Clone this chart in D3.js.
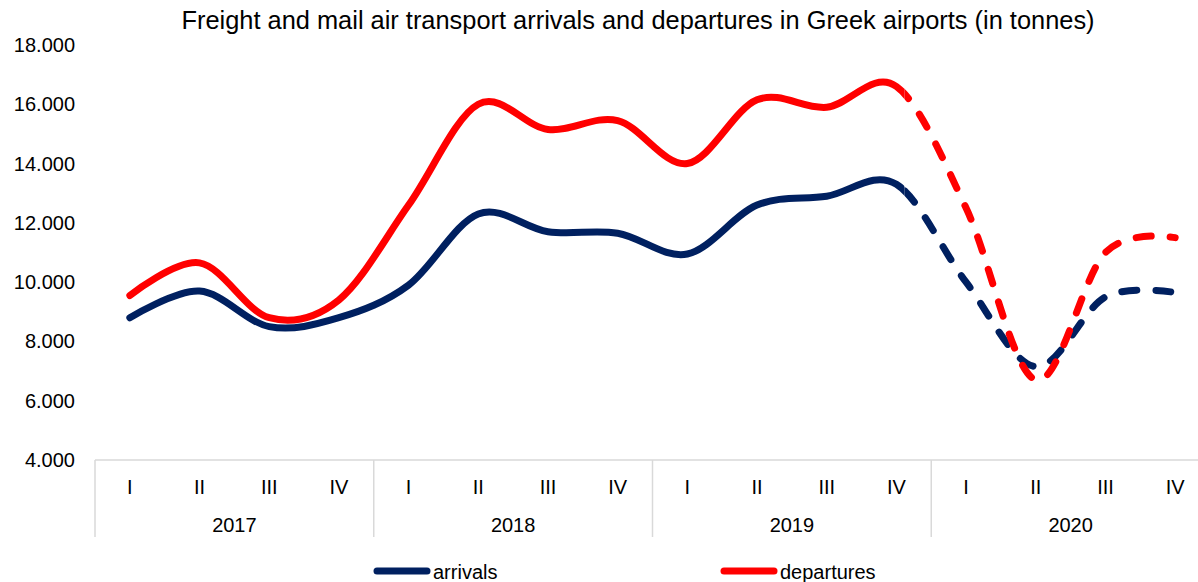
<!DOCTYPE html>
<html lang="en">
  <head>
    <meta charset="utf-8">
    <title>Freight and mail air transport</title>
    <script src="https://d3js.org/d3.v7.js"></script>
    <style>
      body { margin: 0; background: #fff; }
      * { font-family: "Liberation Sans", Arial, sans-serif; }
    </style>
  </head>
  <body>
    <script type="text/javascript">
      // data
      const years = ["2017", "2018", "2019", "2020"];
      const quarters = ["I", "II", "III", "IV"];
      const arrivals = [8800, 9700, 8500, 8800, 9900, 12300, 11700, 11650,
                        10950, 12600, 12900, 13300, 10000, 7150, 9500, 9650];
      const departures = [9550, 10650, 8800, 9400, 12600, 16000, 15150, 15450,
                          14000, 16150, 15900, 16600, 12500, 6700, 11000, 11500];
      const yTicks = [4000, 6000, 8000, 10000, 12000, 14000, 16000, 18000];
      const lastSolid = 11; // 2019 IV, dashed afterwards

      const w = 1198, h = 582;
      const margin = {top: 45, left: 95, bottom: 122};
      const plotW = 1115; // runs past the window edge like the original
      const innerH = h - margin.top - margin.bottom;

      const keys = [];
      years.forEach(y => quarters.forEach(q => keys.push(y + "-" + q)));

      const xScale = d3.scaleBand().domain(keys).range([0, plotW]);
      const yScale = d3.scaleLinear().domain([4000, 18000]).range([innerH, 0]);
      const xc = i => xScale(keys[i]) + xScale.bandwidth() / 2;

      const svg = d3.select("body").append("svg")
        .attr("width", w).attr("height", h);

      svg.append("text")
        .attr("x", 638).attr("y", 29)
        .attr("text-anchor", "middle")
        .attr("font-size", 25.4)
        .text("Freight and mail air transport arrivals and departures in Greek airports (in tonnes)");

      const g = svg.append("g").attr("transform", `translate(${margin.left},${margin.top})`);

      // y axis labels
      g.selectAll("text.ytick").data(yTicks).enter().append("text")
        .attr("class", "ytick")
        .attr("x", -20).attr("y", d => yScale(d) + 7)
        .attr("text-anchor", "end")
        .attr("font-size", 20)
        .text(d => d3.format(",")(d).replace(",", "."));

      // category axis
      g.append("line")
        .attr("x1", 0).attr("x2", plotW)
        .attr("y1", innerH).attr("y2", innerH)
        .attr("stroke", "#d9d9d9").attr("stroke-width", 1.5);

      g.selectAll("line.sep").data(d3.range(years.length + 1)).enter().append("line")
        .attr("class", "sep")
        .attr("x1", i => i * 4 * xScale.step()).attr("x2", i => i * 4 * xScale.step())
        .attr("y1", innerH).attr("y2", innerH + 77)
        .attr("stroke", "#d9d9d9").attr("stroke-width", 1.5);

      g.selectAll("text.q").data(keys).enter().append("text")
        .attr("class", "q")
        .attr("x", (d, i) => xc(i)).attr("y", innerH + 34)
        .attr("text-anchor", "middle")
        .attr("font-size", 20)
        .text(d => d.split("-")[1]);

      g.selectAll("text.yr").data(years).enter().append("text")
        .attr("class", "yr")
        .attr("x", (d, i) => (i * 4 + 2) * xScale.step()).attr("y", innerH + 72)
        .attr("text-anchor", "middle")
        .attr("font-size", 20)
        .text(d => d);

      // lines
      const line = d3.line()
        .x((d, i) => xc(i))
        .y(d => yScale(d))
        .curve(d3.curveCatmullRom.alpha(0));

      const splitX = xc(lastSolid) + 8;
      g.append("clipPath").attr("id", "solidClip").append("rect")
        .attr("x", -20).attr("y", -50).attr("width", splitX + 20).attr("height", innerH + 100);
      g.append("clipPath").attr("id", "dashClip").append("rect")
        .attr("x", splitX).attr("y", -50).attr("width", plotW).attr("height", innerH + 100);

      const series = [
        {name: "arrivals", values: arrivals, color: "#002060"},
        {name: "departures", values: departures, color: "#ff0000"}
      ];

      series.forEach(s => {
        g.append("path")
          .attr("d", line(s.values))
          .attr("fill", "none").attr("stroke", s.color)
          .attr("stroke-width", 7).attr("stroke-linecap", "round")
          .attr("clip-path", "url(#solidClip)");
        g.append("path")
          .attr("d", line(s.values))
          .attr("fill", "none").attr("stroke", s.color)
          .attr("stroke-width", 7).attr("stroke-linecap", "round")
          .attr("stroke-dasharray", "15,19")
          .attr("stroke-dashoffset", -10)
          .attr("clip-path", "url(#dashClip)");
      });

      // legend
      const legX = [377, 724];
      series.forEach((s, i) => {
        svg.append("line")
          .attr("x1", legX[i]).attr("x2", legX[i] + 50)
          .attr("y1", 571).attr("y2", 571)
          .attr("stroke", s.color).attr("stroke-width", 7)
          .attr("stroke-linecap", "round");
        svg.append("text")
          .attr("x", legX[i] + 56).attr("y", 579)
          .attr("font-size", 20)
          .text(s.name);
      });
    </script>
  </body>
</html>
